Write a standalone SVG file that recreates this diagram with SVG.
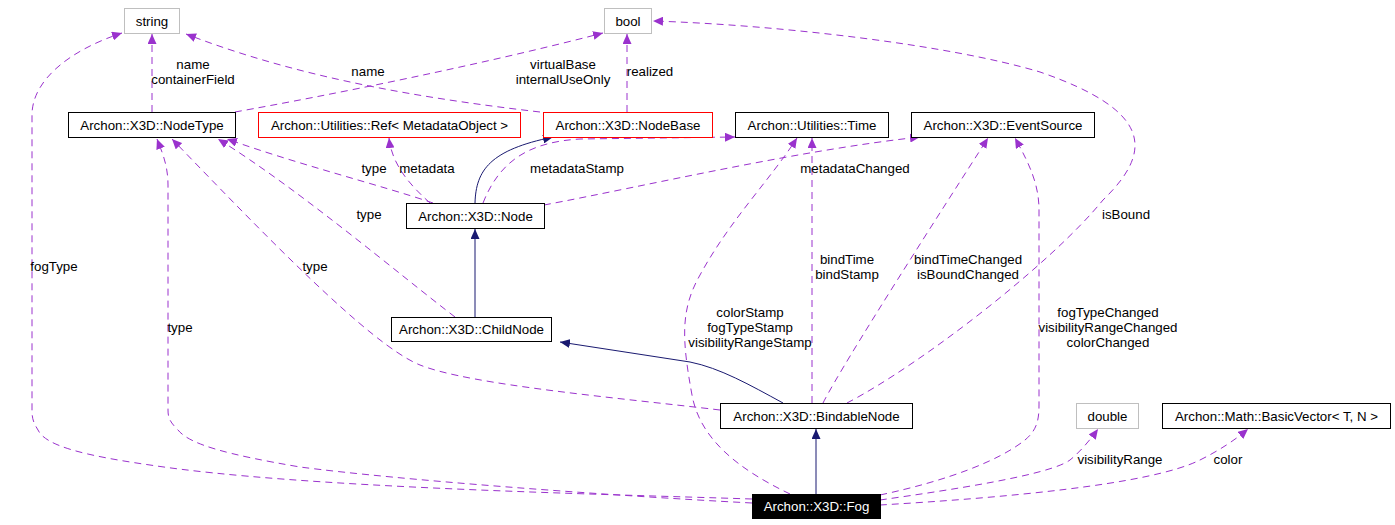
<svg xmlns="http://www.w3.org/2000/svg" width="1395" height="525" viewBox="0 0 1395 525">
<defs>
<marker id="ap" markerUnits="userSpaceOnUse" markerWidth="11" markerHeight="9" refX="10" refY="4.5" orient="auto"><path d="M0,0 L10,4.5 L0,9 z" fill="#9a32cd"/></marker>
<marker id="an" markerUnits="userSpaceOnUse" markerWidth="11" markerHeight="9" refX="10" refY="4.5" orient="auto"><path d="M0,0 L10,4.5 L0,9 z" fill="#191970"/></marker>
</defs>
<style>
text{font-family:"Liberation Sans",Arial,sans-serif;font-size:13.3px;fill:#000}
.n rect{fill:#fff;stroke:#000;stroke-width:1}
.g rect{stroke:#bfbfbf}
.r rect{stroke:#ff0000}
.n text{text-anchor:middle}
.d{fill:none;stroke:#9a32cd;stroke-width:1;stroke-dasharray:7,5;marker-end:url(#ap)}
.s{fill:none;stroke:#191970;stroke-width:1;marker-end:url(#an)}
.l{text-anchor:middle}
</style>
<rect width="1395" height="525" fill="#fff"/>
<g id="connectors">
<path class="d" d="M152,112 L152,34"/>
<path class="d" d="M540,112 C420,98 300,78 186,34"/>
<path class="d" d="M235,112 C330,95 480,65 603,33"/>
<path class="d" d="M627,112 L627,34"/>
<path class="d" d="M847,403 C920,365 1050,265 1103,200 C1155,150 1150,110 1040,72 C950,45 780,25 653,21"/>
<path class="d" d="M483,203 C500,160 530,142 580,139 L735,137"/>
<path class="s" d="M475,203 C476,170 490,150 553,137"/>
<path class="s" d="M475,317 L475,229"/>
<path class="s" d="M783,403 C750,385 720,368 690,362 L560,342"/>
<path class="s" d="M816,494 L816,429"/>
<path class="d" d="M433,203 C380,185 300,165 227,139"/>
<path class="d" d="M430,203 C410,185 392,165 389,138"/>
<path class="d" d="M455,317 C400,275 300,190 218,139"/>
<path class="d" d="M720,410 C620,398 470,385 420,365 C370,345 260,230 172,139"/>
<path class="d" d="M752,503 C600,495 400,480 300,467 C230,455 190,445 178,430 C170,422 168,418 168,410 L168,185 C168,165 162,152 157,139"/>
<path class="d" d="M752,499 C600,494 300,488 150,465 C80,455 45,445 38,430 C33,422 32,418 32,410 L32,115 C32,80 70,50 122,33"/>
<path class="d" d="M790,494 C740,470 700,440 692,395 C682,340 680,310 700,275 C730,220 770,180 797,138"/>
<path class="d" d="M812,403 L812,138"/>
<path class="d" d="M823,403 C845,360 945,205 988,138"/>
<path class="d" d="M880,495 C950,480 1000,460 1025,440 C1037,430 1039,420 1039,405 L1039,210 C1039,185 1030,165 1015,138"/>
<path class="d" d="M544,205 C650,185 800,150 920,137"/>
<path class="d" d="M880,500 C950,490 1050,475 1070,460 C1080,452 1090,440 1098,429"/>
<path class="d" d="M880,505 C1000,498 1150,485 1200,460 C1220,450 1235,440 1248,429"/>
</g>
<g id="labels">
<text class="l" x="193" y="69">name</text>
<text class="l" x="193" y="84">containerField</text>
<text class="l" x="368" y="76">name</text>
<text class="l" x="563" y="69">virtualBase</text>
<text class="l" x="563" y="84">internalUseOnly</text>
<text class="l" x="650" y="76">realized</text>
<text class="l" x="1126" y="219">isBound</text>
<text class="l" x="577" y="173">metadataStamp</text>
<text class="l" x="374" y="173">type</text>
<text class="l" x="427" y="173">metadata</text>
<text class="l" x="369" y="219">type</text>
<text class="l" x="315" y="271">type</text>
<text class="l" x="180" y="332">type</text>
<text class="l" x="54" y="271">fogType</text>
<text class="l" x="750" y="317">colorStamp</text>
<text class="l" x="750" y="332">fogTypeStamp</text>
<text class="l" x="750" y="347">visibilityRangeStamp</text>
<text class="l" x="847" y="264">bindTime</text>
<text class="l" x="847" y="279">bindStamp</text>
<text class="l" x="968" y="264">bindTimeChanged</text>
<text class="l" x="968" y="279">isBoundChanged</text>
<text class="l" x="1108" y="317">fogTypeChanged</text>
<text class="l" x="1108" y="332">visibilityRangeChanged</text>
<text class="l" x="1108" y="347">colorChanged</text>
<text class="l" x="855" y="173">metadataChanged</text>
<text class="l" x="1120" y="464">visibilityRange</text>
<text class="l" x="1228" y="464">color</text>
</g>
<g id="string" class="n g"><rect x="124.5" y="8.5" width="55" height="25"/><text x="152" y="25.5">string</text></g>
<g id="bool" class="n g"><rect x="604.5" y="8.5" width="47" height="25"/><text x="628" y="25.5">bool</text></g>
<g id="NodeType" class="n"><rect x="68.5" y="112.5" width="167" height="25"/><text x="152" y="129.5">Archon::X3D::NodeType</text></g>
<g id="Ref" class="n r"><rect x="258.5" y="112.5" width="262" height="25"/><text x="389.5" y="129.5">Archon::Utilities::Ref&lt; MetadataObject &gt;</text></g>
<g id="NodeBase" class="n r"><rect x="543.5" y="112.5" width="169" height="25"/><text x="628" y="129.5">Archon::X3D::NodeBase</text></g>
<g id="Time" class="n"><rect x="735.5" y="112.5" width="153" height="25"/><text x="812" y="129.5">Archon::Utilities::Time</text></g>
<g id="EventSource" class="n"><rect x="911.5" y="112.5" width="183" height="25"/><text x="1003" y="129.5">Archon::X3D::EventSource</text></g>
<g id="Node" class="n"><rect x="406.5" y="203.5" width="138" height="25"/><text x="475.5" y="220.5">Archon::X3D::Node</text></g>
<g id="ChildNode" class="n"><rect x="391.5" y="317.5" width="160" height="24"/><text x="471.5" y="334">Archon::X3D::ChildNode</text></g>
<g id="BindableNode" class="n"><rect x="720.5" y="403.5" width="192" height="25"/><text x="816.5" y="420.5">Archon::X3D::BindableNode</text></g>
<g id="double" class="n g"><rect x="1076.5" y="403.5" width="62" height="25"/><text x="1107.5" y="420.5">double</text></g>
<g id="BasicVector" class="n"><rect x="1162.5" y="403.5" width="228" height="25"/><text x="1276.5" y="420.5">Archon::Math::BasicVector&lt; T, N &gt;</text></g>
<g id="Fog" class="n"><rect x="752.5" y="494.5" width="128" height="24" style="fill:#000;stroke:#000"/><text x="816.5" y="511" style="fill:#fff">Archon::X3D::Fog</text></g>
</svg>
